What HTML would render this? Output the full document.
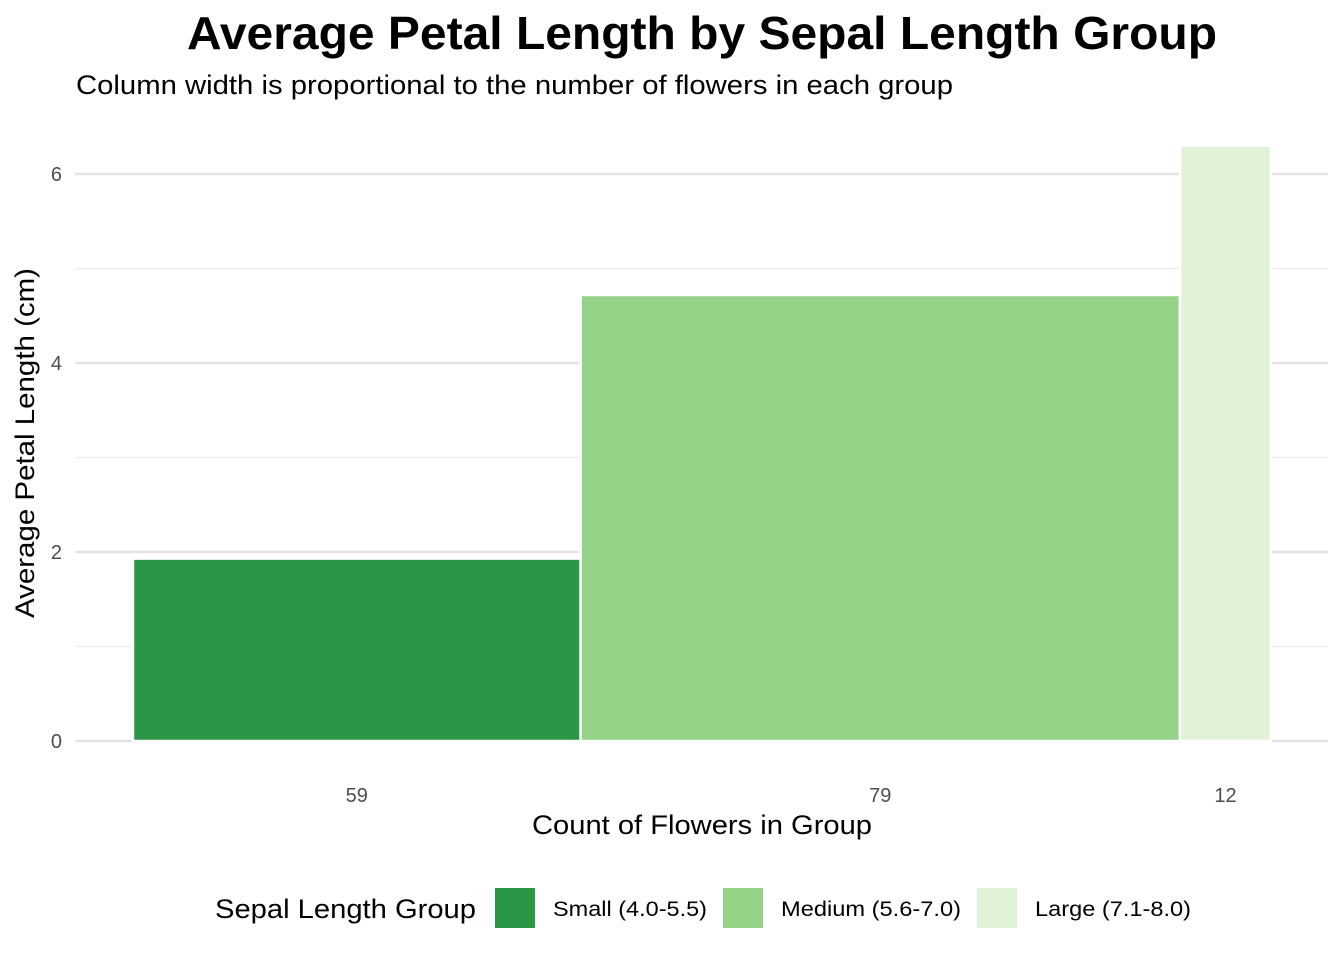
<!DOCTYPE html>
<html><head><meta charset="utf-8"><style>
body{margin:0;background:#fff;font-family:"Liberation Sans",Arial,sans-serif}
svg text{font-family:"Liberation Sans",Arial,sans-serif}
</style></head><body>
<svg id="c" width="1344" height="960" xmlns="http://www.w3.org/2000/svg">
<text x="187" y="49" font-size="46" font-weight="bold" fill="#000" textLength="1030" lengthAdjust="spacingAndGlyphs">Average Petal Length by Sepal Length Group</text>
<text x="76" y="94" font-size="27" fill="#000" textLength="877" lengthAdjust="spacingAndGlyphs">Column width is proportional to the number of flowers in each group</text>
<g id="grid"></g>
<g id="bars"></g>
<g id="ylab"></g>
<g id="xlab"></g>
<text x="532" y="834" font-size="27" fill="#000" textLength="340" lengthAdjust="spacingAndGlyphs">Count of Flowers in Group</text>
<text transform="translate(34,618) rotate(-90)" font-size="27" fill="#000" textLength="350" lengthAdjust="spacingAndGlyphs">Average Petal Length (cm)</text>
<g id="legend">
<text x="215" y="918" font-size="27" fill="#000" textLength="261" lengthAdjust="spacingAndGlyphs">Sepal Length Group</text>
</g>
</svg>
<script>
const categories=["Small (4.0-5.5)","Medium (5.6-7.0)","Large (7.1-8.0)"];
const counts=[59,79,12];
const values=[1.93,4.72,6.30];
const colors=["#2b9645","#94d387","#e0f3d9"];
const yTicks=[0,2,4,6];
const yMinor=[1,3,5];
const ns="http://www.w3.org/2000/svg";
const x0=133,x1=1271,y0=741,pxPerUnit=94.5;
const total=counts.reduce((a,b)=>a+b,0);
const xs=c=>x0+c/total*(x1-x0);
const ys=v=>y0-v*pxPerUnit;
function mk(tag,attrs,parent){const e=document.createElementNS(ns,tag);for(const k in attrs)e.setAttribute(k,attrs[k]);document.getElementById(parent).appendChild(e);return e;}
yMinor.forEach(t=>{const l=mk("line",{x1:75,x2:1328,y1:ys(t),y2:ys(t),stroke:"#ebebeb","stroke-width":1.2},"grid");

});
yTicks.forEach(t=>{const l=mk("line",{x1:75,x2:1328,y1:ys(t),y2:ys(t),stroke:"#e3e3e3","stroke-width":2.4},"grid");


const tx=mk("text",{x:62,y:ys(t)+7,"text-anchor":"end","font-size":20,fill:"#4d4d4d"},"ylab");tx.textContent=t;

});
let cum=0;
counts.forEach((c,i)=>{const a=xs(cum),b=xs(cum+c);cum+=c;
const r=mk("rect",{x:a,y:ys(values[i]),width:b-a,height:ys(0)-ys(values[i]),fill:colors[i],stroke:"#fff","stroke-width":2.5},"bars");


const t=mk("text",{x:(a+b)/2,y:802,"text-anchor":"middle","font-size":20,fill:"#4d4d4d"},"xlab");t.textContent=c;

});
const lx=[495,723,977];
const lw=[154,180,156];
categories.forEach((c,i)=>{const r=mk("rect",{x:lx[i],y:888,width:40,height:40,fill:colors[i]},"legend");


const t=mk("text",{x:lx[i]+58,y:916,"font-size":21,fill:"#000",textLength:lw[i],lengthAdjust:"spacingAndGlyphs"},"legend");t.textContent=c;

});
</script>
</body></html>
